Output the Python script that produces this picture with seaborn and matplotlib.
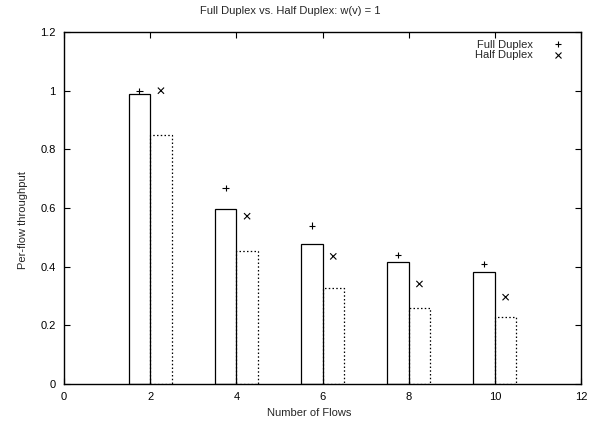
import numpy as np
import pandas as pd
import matplotlib
matplotlib.use("Agg")
import matplotlib.pyplot as plt
import seaborn as sns

# Per-flow throughput for each number of flows
flows = [2, 4, 6, 8, 10]
full_bar = [0.99, 0.597, 0.477, 0.415, 0.381]
half_bar = [0.848, 0.455, 0.326, 0.258, 0.23]
full_pts = [1.0, 0.667, 0.54, 0.44, 0.41]
half_pts = [1.0, 0.572, 0.435, 0.341, 0.296]

x_ticks = [0, 2, 4, 6, 8, 10, 12]
y_ticks = [0, 0.2, 0.4, 0.6, 0.8, 1, 1.2]
y_tick_labels = ["0", "0.2", "0.4", "0.6", "0.8", "1", "1.2"]

sns.set_style("ticks")
plt.rcParams["font.family"] = ["Liberation Sans", "DejaVu Sans"]
plt.rcParams["font.size"] = 8

W, H = 594, 424
fig = plt.figure(figsize=(W / 100, H / 100), dpi=100)
ax = fig.add_axes([64 / W, 40 / H, 517 / W, 352 / H])

bw = 0.5
fx = np.array(flows, dtype=float)

# outlined bars: full duplex left of each tick, half duplex (dotted) right
ax.bar(fx - bw, full_bar, width=bw, align="edge", facecolor="white",
       edgecolor="black", linewidth=0.9, zorder=2)
ax.bar(fx, half_bar, width=bw, align="edge", facecolor="none",
       edgecolor="black", linewidth=0.9, linestyle=(0, (1.2, 1.8)), zorder=3)

pts = pd.DataFrame({
    "x": np.concatenate([fx - bw / 2, fx + bw / 2]),
    "y": full_pts + half_pts,
    "series": ["Full Duplex"] * len(flows) + ["Half Duplex"] * len(flows),
})
sns.scatterplot(data=pts, x="x", y="y", style="series",
                markers={"Full Duplex": "+", "Half Duplex": "x"},
                color="black", s=20, linewidth=0.8, ax=ax, zorder=4, legend=True)

ax.set_xlim(0, 12)
ax.set_ylim(0, 1.2)
ax.set_xticks(x_ticks)
ax.set_xticklabels([str(t) for t in x_ticks])
ax.set_yticks(y_ticks)
ax.set_yticklabels(y_tick_labels)
ax.tick_params(direction="in", length=4, width=0.8, top=True, right=True,
               labelsize=8, pad=6, colors="black")
for sp in ax.spines.values():
    sp.set_linewidth(1.0)
    sp.set_color("black")
    sp.set_visible(True)

ax.set_xlabel("")
ax.set_ylabel("")
fig.text(309.5 / W, 1 - 413 / H, "Number of Flows", ha="center", va="center", fontsize=8)
fig.text(23 / W, 1 - 220 / H, "Per-flow throughput", ha="center", va="center",
         rotation=90, fontsize=8)
fig.text(290 / W, 1 - 11 / H, "Full Duplex vs. Half Duplex: w(v) = 1",
         ha="center", va="center", fontsize=8)

handles, labels = ax.get_legend_handles_labels()
ax.legend(handles, labels, loc="upper right", frameon=False, markerfirst=False,
          fontsize=8, handletextpad=1.75, borderaxespad=0, borderpad=0.4,
          labelspacing=0.05, handlelength=1.0,
          bbox_to_anchor=(568 / W, 1 - 35.5 / H), bbox_transform=fig.transFigure)

fig.savefig("out.png", dpi=100)
